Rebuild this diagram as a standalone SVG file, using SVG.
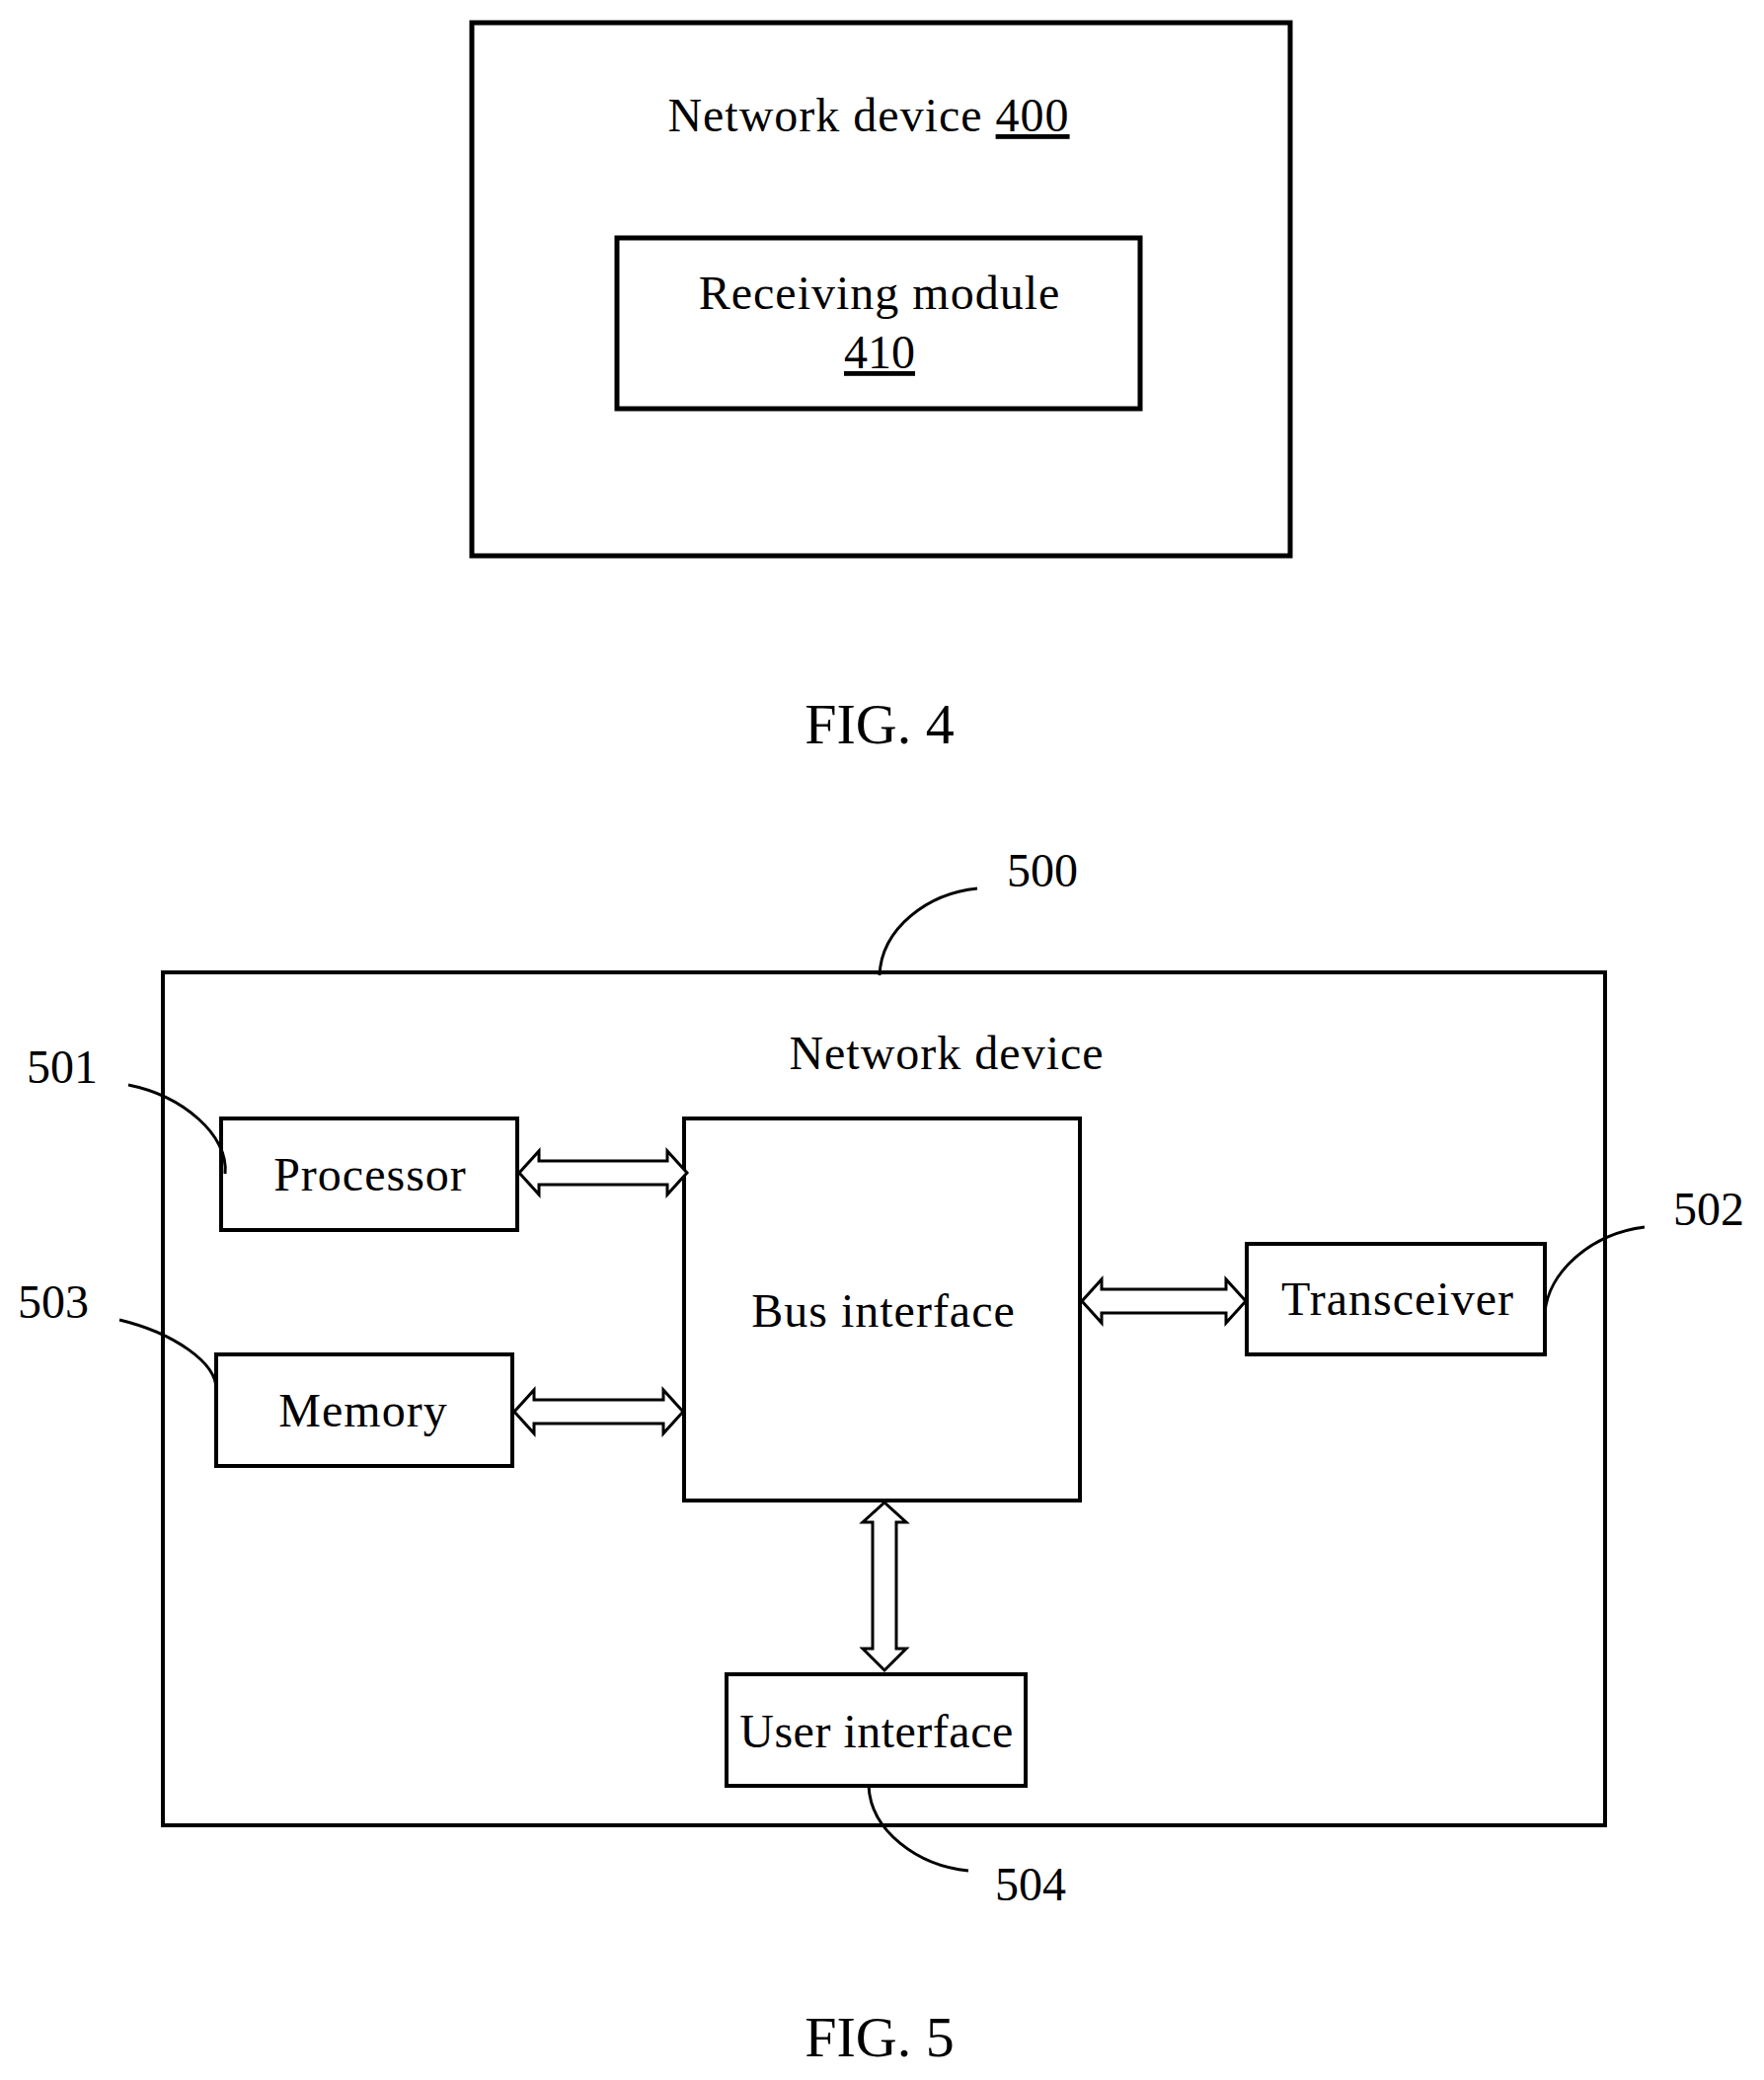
<svg xmlns="http://www.w3.org/2000/svg" width="1787" height="2107" viewBox="0 0 1787 2107">
<style>
text{font-family:"Liberation Serif","Times New Roman",serif;fill:#000;text-anchor:middle;font-size:48px}
.box{fill:none;stroke:#000;stroke-width:4}
.thick{fill:none;stroke:#000;stroke-width:5}
.lead{fill:none;stroke:#000;stroke-width:3}
.arr{fill:#fff;stroke:#000;stroke-width:3;stroke-linejoin:miter}
.fig{font-size:58px}
</style>
<rect width="1787" height="2107" fill="#fff"/>
<g id="fig4">
<g id="device400"><rect class="thick" x="478" y="23" width="829" height="540"/>
<text x="880" y="133" letter-spacing="1">Network device <tspan text-decoration="underline">400</tspan></text></g>
<g id="module410"><rect class="thick" x="625" y="241" width="530" height="173"/>
<text x="891" y="313" letter-spacing="1">Receiving module</text>
<text x="891" y="373" text-decoration="underline">410</text></g>
<text class="fig" x="891" y="753">FIG. 4</text>
</g>
<g id="fig5">
<g id="device500"><rect class="box" x="165" y="985" width="1461" height="864"/>
<text x="959" y="1083" letter-spacing="1">Network device</text></g>
<g id="processor"><rect class="box" x="224" y="1133" width="300" height="113"/><text x="375" y="1206" letter-spacing="1">Processor</text></g>
<g id="memory"><rect class="box" x="219" y="1372" width="300" height="113"/><text x="368" y="1445" letter-spacing="1">Memory</text></g>
<g id="bus"><rect class="box" x="693" y="1133" width="401" height="387"/><text x="895" y="1344" letter-spacing="1">Bus interface</text></g>
<g id="transceiver"><rect class="box" x="1263" y="1260" width="302" height="112"/><text x="1416" y="1332" letter-spacing="1">Transceiver</text></g>
<g id="userif"><rect class="box" x="736" y="1696" width="303" height="113"/><text x="888" y="1770" letter-spacing="0.5">User interface</text></g>
<g id="labels">
<text x="1056" y="898" font-size="44">500</text>
<text x="63" y="1097" font-size="44">501</text>
<text x="54" y="1335" font-size="44">503</text>
<text x="1731" y="1241" font-size="44">502</text>
<text x="1044" y="1925" font-size="44">504</text>
</g>
</g>
<g id="connectors">
<path class="arr" d="M526,1188 L546,1166 L546,1176 L676,1176 L676,1166 L696,1188 L676,1210 L676,1200 L546,1200 L546,1210 Z"/>
<path class="arr" d="M521,1430 L541,1408 L541,1418 L672,1418 L672,1408 L692,1430 L672,1452 L672,1442 L541,1442 L541,1452 Z"/>
<path class="arr" d="M1096,1318 L1116,1296 L1116,1306 L1242,1306 L1242,1296 L1262,1318 L1242,1340 L1242,1330 L1116,1330 L1116,1340 Z"/>
<path class="arr" d="M896,1522 L918,1542 L908,1542 L908,1670 L918,1670 L896,1692 L874,1670 L884,1670 L884,1542 L874,1542 Z"/>
<path class="lead" d="M891,988 C893,940 940,905 990,900"/>
<path class="lead" d="M130,1099 C185,1110 232,1150 228,1189"/>
<path class="lead" d="M121,1337 C175,1350 220,1380 219,1408"/>
<path class="lead" d="M1666,1243 C1610,1250 1568,1290 1565,1330"/>
<path class="lead" d="M880,1809 C882,1855 930,1890 981,1895"/>
</g>
<text class="fig" x="891" y="2083">FIG. 5</text>
</svg>
